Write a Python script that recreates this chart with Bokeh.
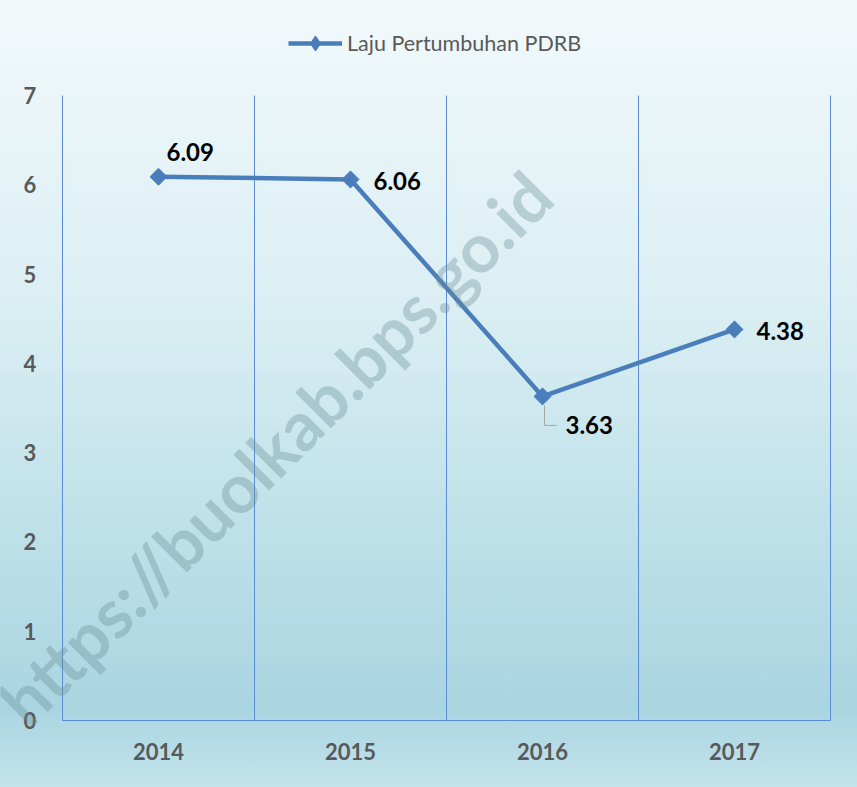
import math
from bokeh.plotting import figure
from bokeh.models import (Range1d, Legend, LegendItem, Label,
                          ColumnDataSource, FixedTicker)
from bokeh.core.properties import value
from bokeh.embed import file_html
from bokeh.resources import INLINE

# ---- data ----
years = ["2014", "2015", "2016", "2017"]
growth = [6.09, 6.06, 3.63, 4.38]
label_texts = ["6.09", "6.06", "3.63", "4.38"]
y_ticks = [0, 1, 2, 3, 4, 5, 6, 7]
series_name = "Laju Pertumbuhan PDRB"
watermark = "https://buolkab.bps.go.id"

# ---- style / layout ----
FONT = "Lato"
BLUE = "#4a7ebb"
GRID = "#5b8bd2"
AXIS_TEXT = "#595959"

W, H = 857, 787
MB_R, MB_B = 24, 56                     # right / bottom border (px)
FR, FB = W - MB_R, H - MB_B             # frame right / bottom edge (px)
X_LEFT, X_RIGHT = 62, 830               # plot-area box in px
Y_ZERO, Y_TOP = 720, 95                 # px of 0 and of top tick
n = len(years)
y_top_tick = max(y_ticks)
px_x = (X_RIGHT - X_LEFT) / n
px_y = (Y_ZERO - Y_TOP) / y_top_tick

p = figure(width=W, height=H,
           x_range=Range1d(-X_LEFT / px_x, n + (FR - X_RIGHT) / px_x),
           y_range=Range1d(-(FB - Y_ZERO) / px_y, y_top_tick + Y_TOP / px_y),
           y_axis_location="right",
           output_backend="svg", toolbar_location=None,
           min_border_left=0, min_border_top=0,
           min_border_right=MB_R, min_border_bottom=MB_B)

p.border_fill_color = None
p.background_fill_color = None
p.outline_line_color = None
p.styles = {"background": "linear-gradient(180deg, #f3f9fb 0%, #d9eef3 40%, #a9d5e1 90%, #c3e3eb 100%)"}

p.xgrid.grid_line_color = None
p.ygrid.grid_line_color = None

xs = [i + 0.5 for i in range(n)]

# y axis (drawn at a fixed spot left of the plot area)
p.yaxis.ticker = FixedTicker(ticks=y_ticks)
p.yaxis.fixed_location = (17 - X_LEFT) / px_x
p.yaxis.axis_line_color = None
p.yaxis.major_tick_line_color = None
p.yaxis.minor_tick_line_color = None
p.yaxis.major_tick_out = 0
p.yaxis.major_tick_in = 0
p.yaxis.major_label_text_font = FONT
p.yaxis.major_label_text_font_size = "22px"
p.yaxis.major_label_text_font_style = "bold"
p.yaxis.major_label_text_color = AXIS_TEXT
p.yaxis.major_label_standoff = 6

# x axis (labels only; the baseline is drawn below as a segment at y = 0)
p.xaxis.ticker = FixedTicker(ticks=xs)
p.xaxis.major_label_overrides = {x: y for x, y in zip(xs, years)}
p.xaxis.axis_line_color = None
p.xaxis.major_tick_line_color = None
p.xaxis.minor_tick_line_color = None
p.xaxis.major_tick_out = 0
p.xaxis.major_tick_in = 0
p.xaxis.major_label_text_font = FONT
p.xaxis.major_label_text_font_size = "22px"
p.xaxis.major_label_text_font_style = "bold"
p.xaxis.major_label_text_color = AXIS_TEXT
p.xaxis.major_label_standoff = 11

# plot-area lines: category boundaries and the baseline
bounds = list(range(n + 1))
p.segment(x0=bounds, y0=[0] * len(bounds), x1=bounds, y1=[y_top_tick] * len(bounds),
          line_color=GRID, line_width=1)
p.segment(x0=[0], y0=[0], x1=[n], y1=[0], line_color=GRID, line_width=1)

# watermark
p.add_layout(Label(x=(274 - X_LEFT) / px_x, y=(Y_ZERO - 447) / px_y, text=watermark,
                   angle=45, angle_units="deg",
                   text_align="center", text_baseline="middle",
                   text_font=FONT, text_font_size="68px", text_font_style="bold",
                   text_color="#6a8c97", text_alpha=0.36))

# series
r_line = p.line(x=xs, y=growth, line_color=BLUE, line_width=4.5)
# diamond used for the legend symbol (hidden under the point markers)
r_leg_marker = p.scatter(x=xs, y=growth, marker="diamond", size=15,
                         fill_color=BLUE, line_color=BLUE)
r_pts = p.scatter(x=xs, y=growth, marker="square", angle=math.pi / 4, size=12,
                  fill_color=BLUE, line_color=BLUE)

# leader line for 2016 label
dpy = 1 / px_y
dpx = 1 / px_x
i16 = years.index("2016")
cx = xs[i16]
p.line(x=[cx + 2 * dpx, cx + 2 * dpx, cx + 14 * dpx],
       y=[growth[i16] - 9 * dpy, growth[i16] - 29 * dpy, growth[i16] - 29 * dpy],
       line_color="#a6a6a6", line_width=1)

# data labels
dx = [8, 23, 23, 22]
dy = [-25, 2, 29, 2]
src = ColumnDataSource(dict(x=xs, y=growth, t=label_texts, dx=dx, dy=dy))
p.text(x="x", y="y", text="t", x_offset="dx", y_offset="dy", source=src,
       text_font=value(FONT), text_font_size="24px", text_font_style="bold",
       text_color="black", text_align="left", text_baseline="middle")

# legend at the top
GH = 38
legend = Legend(items=[LegendItem(label=series_name, renderers=[r_line, r_leg_marker])],
                location=(288, FB - 43 - GH // 2), orientation="horizontal",
                glyph_width=54, glyph_height=GH, label_standoff=5,
                label_text_font=FONT, label_text_font_size="21.5px",
                label_text_color=AXIS_TEXT,
                border_line_color=None, background_fill_alpha=0,
                padding=0, margin=0)
p.add_layout(legend)

open("out.html", "w").write(file_html(p, INLINE))
